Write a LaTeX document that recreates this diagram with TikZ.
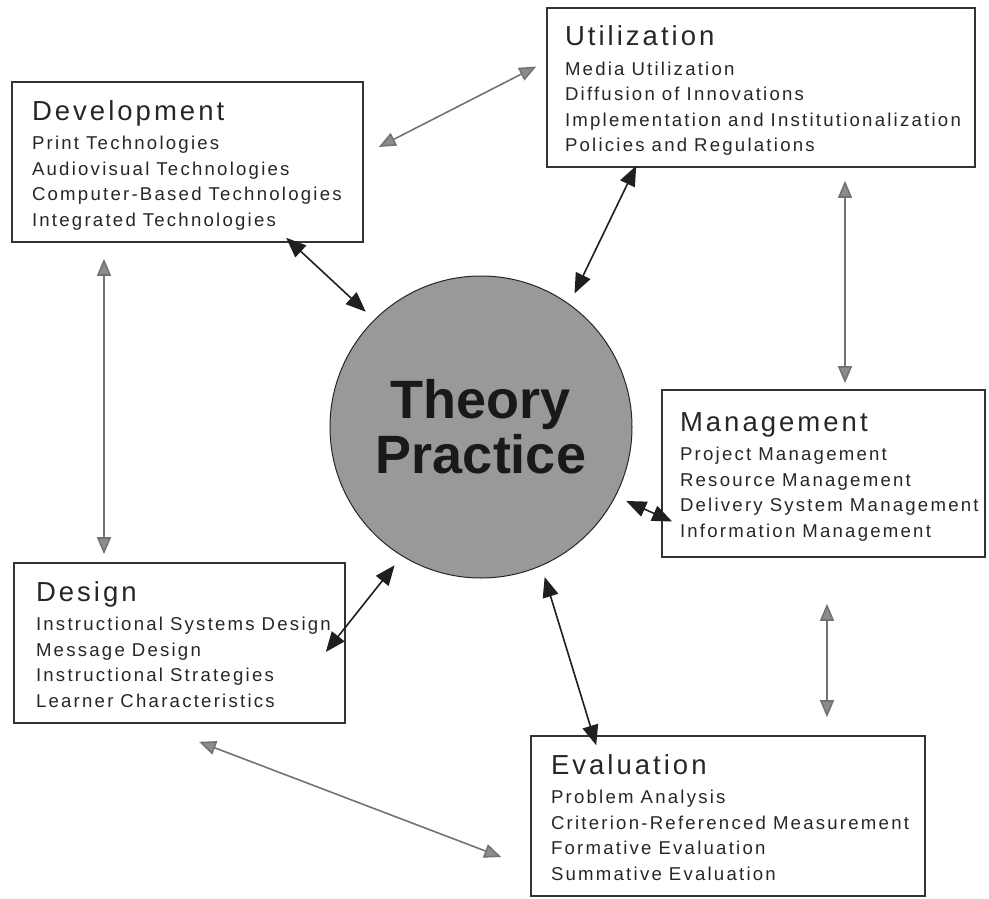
\documentclass[tikz,border=0pt]{standalone}
\usepackage{fontspec}
\usepackage{xcolor}
\usetikzlibrary{arrows.meta}
\usetikzlibrary{positioning}
\setmainfont{Liberation Sans}
\newfontfamily\titlefont[LetterSpace=11]{Liberation Sans}
\newfontfamily\itemfont[LetterSpace=12]{Liberation Sans}
\newfontfamily\corefont{Liberation Sans}
\setlength{\parindent}{0pt}
\newcommand\areatext[2]{%
  {\titlefont\fontsize{27.5}{29}\selectfont\spaceskip=10pt\relax #1\par}\vspace{4pt}%
  {\itemfont\fontsize{18.6}{25.5}\selectfont\spaceskip=7pt\relax
   \begin{tabular}[t]{@{}l@{}}#2\end{tabular}\par}\vspace{-10pt}%
}

\begin{document}
\begin{tikzpicture}[x=1pt, y=-1pt,
  area/.style={draw=black!80, line width=1.6pt, rectangle, inner xsep=20pt, inner ysep=0pt,
    align=left, text=black!85, minimum height=160pt},
  core/.style={circle, draw=black!85, line width=1pt, fill=black!40, minimum size=302pt,
    inner sep=0pt, outer sep=12pt, align=center, text=black!90,
    font=\corefont\bfseries\fontsize{54}{55}\selectfont},
  outarrow/.style={draw=black!55, line width=1.6pt,
    {Triangle[length=17pt,width=14pt,fill=black!45]}-{Triangle[length=17pt,width=14pt,fill=black!45]}},
  inarrow/.style={draw=black!88, line width=1.6pt,
    {Triangle[length=20pt,width=16pt]}-{Triangle[length=20pt,width=16pt]}}]
\useasboundingbox (0,0) rectangle (989,899);

\node[core] (tp) at (481,427) {Theory\\Practice};

\node[area, text width=311pt] (dev) at (187.5,162) {\areatext{Development}{Print Technologies\\ Audiovisual Technologies\\ Computer-Based Technologies\\ Integrated Technologies}};
\node[area, inner xsep=18pt, text width=392pt, minimum height=159pt] (util) at (761,87.5) {\areatext{Utilization}{Media Utilization\\ Diffusion of Innovations\\ Implementation and Institutionalization\\ Policies and Regulations}};
\node[area, inner xsep=18pt, text width=287pt, minimum height=167pt] (mgmt) at (823.5,473.5) {\areatext{Management}{Project Management\\ Resource Management\\ Delivery System Management\\ Information Management}};
\node[area, inner xsep=22pt, text width=287pt] (des) at (179.5,643) {\areatext{Design}{Instructional Systems Design\\ Message Design\\ Instructional Strategies\\ Learner Characteristics}};
\node[area, text width=354pt] (eval) at (728,816) {\areatext{Evaluation}{Problem Analysis\\ Criterion-Referenced Measurement\\ Formative Evaluation\\ Summative Evaluation}};

\draw[outarrow] ([xshift=15pt,yshift=15pt]dev.east) -- ([xshift=-10pt,yshift=21pt]util.west);
\draw[outarrow] ([xshift=84pt,yshift=-13pt]util.south) -- ([xshift=21.5pt,yshift=6pt]mgmt.north);
\draw[outarrow] ([xshift=3.5pt,yshift=-46pt]mgmt.south) -- ([xshift=99pt,yshift=18pt]eval.north);
\draw[outarrow] ([xshift=-29pt,yshift=-41pt]eval.west) -- ([xshift=19.5pt,yshift=-18pt]des.south);
\draw[outarrow] ([xshift=-75.5pt,yshift=8pt]des.north) -- ([xshift=-83.5pt,yshift=-16pt]dev.south);

\draw[inarrow] ([xshift=275pt,yshift=5pt]dev.south west) -- (tp.135);
\draw[inarrow] ([xshift=90pt,yshift=2pt]util.south west) -- (tp.55);
\draw[inarrow] (tp.-27) -- ([xshift=11pt,yshift=-48pt]mgmt.west);
\draw[inarrow] ([xshift=-20pt,yshift=-9pt]des.east) -- (tp.-122);
\draw[inarrow] (tp.-67) -- ([xshift=66pt,yshift=-10pt]eval.north west);
\end{tikzpicture}
\end{document}
